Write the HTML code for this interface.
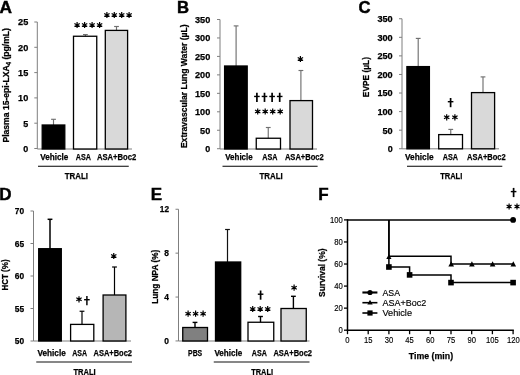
<!DOCTYPE html>
<html><head><meta charset="utf-8"><style>
html,body{margin:0;padding:0;background:#fff;}
svg{display:block;filter:blur(0.35px);}
text{fill:#000;}
</style></head><body>
<svg width="520" height="375" viewBox="0 0 520 375">
<rect width="520" height="375" fill="#fff"/>
<text x="-0.5" y="12.8" font-size="17.3" text-anchor="start" style="font-family:'Liberation Sans',sans-serif;font-weight:bold;stroke:#000;stroke-width:0.45px;" >A</text>
<line x1="37.3" y1="22" x2="37.3" y2="149" stroke="#7f7f7f" stroke-width="1"/>
<line x1="34.3" y1="22.0" x2="37.3" y2="22.0" stroke="#7f7f7f" stroke-width="1"/>
<text x="28.3" y="25.45" font-size="9.6" text-anchor="end" textLength="10.2" lengthAdjust="spacingAndGlyphs" style="font-family:'Liberation Sans',sans-serif;font-weight:bold;stroke:#000;stroke-width:0.25px;" >25</text>
<line x1="34.3" y1="47.3" x2="37.3" y2="47.3" stroke="#7f7f7f" stroke-width="1"/>
<text x="28.3" y="50.75" font-size="9.6" text-anchor="end" textLength="10.2" lengthAdjust="spacingAndGlyphs" style="font-family:'Liberation Sans',sans-serif;font-weight:bold;stroke:#000;stroke-width:0.25px;" >20</text>
<line x1="34.3" y1="72.6" x2="37.3" y2="72.6" stroke="#7f7f7f" stroke-width="1"/>
<text x="28.3" y="76.05" font-size="9.6" text-anchor="end" textLength="10.2" lengthAdjust="spacingAndGlyphs" style="font-family:'Liberation Sans',sans-serif;font-weight:bold;stroke:#000;stroke-width:0.25px;" >15</text>
<line x1="34.3" y1="97.9" x2="37.3" y2="97.9" stroke="#7f7f7f" stroke-width="1"/>
<text x="28.3" y="101.35000000000001" font-size="9.6" text-anchor="end" textLength="10.2" lengthAdjust="spacingAndGlyphs" style="font-family:'Liberation Sans',sans-serif;font-weight:bold;stroke:#000;stroke-width:0.25px;" >10</text>
<line x1="34.3" y1="123.2" x2="37.3" y2="123.2" stroke="#7f7f7f" stroke-width="1"/>
<text x="28.3" y="126.65" font-size="9.6" text-anchor="end" textLength="5.0" lengthAdjust="spacingAndGlyphs" style="font-family:'Liberation Sans',sans-serif;font-weight:bold;stroke:#000;stroke-width:0.25px;" >5</text>
<line x1="34.3" y1="148.5" x2="37.3" y2="148.5" stroke="#7f7f7f" stroke-width="1"/>
<text x="28.3" y="151.95" font-size="9.6" text-anchor="end" textLength="5.0" lengthAdjust="spacingAndGlyphs" style="font-family:'Liberation Sans',sans-serif;font-weight:bold;stroke:#000;stroke-width:0.25px;" >0</text>
<line x1="37.3" y1="149" x2="132" y2="149" stroke="#7f7f7f" stroke-width="1"/>
<line x1="53.5" y1="119.3" x2="53.5" y2="125" stroke="#707070" stroke-width="1.15"/>
<line x1="51.1" y1="119.3" x2="55.9" y2="119.3" stroke="#707070" stroke-width="1.15"/>
<rect x="42.2" y="125" width="22.599999999999994" height="24" fill="#000" stroke="#000" stroke-width="1.3"/>
<line x1="85.4" y1="34.6" x2="85.4" y2="37" stroke="#707070" stroke-width="1.15"/>
<line x1="83.0" y1="34.6" x2="87.80000000000001" y2="34.6" stroke="#707070" stroke-width="1.15"/>
<rect x="73.5" y="36.25" width="23.25" height="112.75" fill="#fff" stroke="#000" stroke-width="1.3"/>
<line x1="116.5" y1="26.5" x2="116.5" y2="31" stroke="#707070" stroke-width="1.15"/>
<line x1="114.1" y1="26.5" x2="118.9" y2="26.5" stroke="#707070" stroke-width="1.15"/>
<rect x="105.3" y="30.4" width="22.299999999999997" height="118.6" fill="#d9d9d9" stroke="#000" stroke-width="1.3"/>
<text x="40.2" y="160" font-size="9.6" text-anchor="start" textLength="28.2" lengthAdjust="spacingAndGlyphs" style="font-family:'Liberation Sans',sans-serif;font-weight:bold;stroke:#000;stroke-width:0.25px;" >Vehicle</text>
<text x="75.8" y="160" font-size="9.6" text-anchor="start" textLength="15.2" lengthAdjust="spacingAndGlyphs" style="font-family:'Liberation Sans',sans-serif;font-weight:bold;stroke:#000;stroke-width:0.25px;" >ASA</text>
<text x="96.9" y="160" font-size="9.6" text-anchor="start" textLength="39.4" lengthAdjust="spacingAndGlyphs" style="font-family:'Liberation Sans',sans-serif;font-weight:bold;stroke:#000;stroke-width:0.25px;" >ASA+Boc2</text>
<line x1="38" y1="166.25" x2="128.75" y2="166.25" stroke="#000" stroke-width="1.1"/>
<text x="64.7" y="179.2" font-size="9.6" text-anchor="start" textLength="23.3" lengthAdjust="spacingAndGlyphs" style="font-family:'Liberation Sans',sans-serif;font-weight:bold;stroke:#000;stroke-width:0.25px;" >TRALI</text>
<path d="M77.10,25.00 L77.10,21.90 M77.10,25.00 L79.78,23.45 M77.10,25.00 L79.78,26.55 M77.10,25.00 L77.10,28.10 M77.10,25.00 L74.42,26.55 M77.10,25.00 L74.42,23.45 " stroke="#000" stroke-width="1.2" fill="none"/>
<circle cx="77.10" cy="25.00" r="1.0" fill="#000"/>
<path d="M84.60,25.00 L84.60,21.90 M84.60,25.00 L87.28,23.45 M84.60,25.00 L87.28,26.55 M84.60,25.00 L84.60,28.10 M84.60,25.00 L81.92,26.55 M84.60,25.00 L81.92,23.45 " stroke="#000" stroke-width="1.2" fill="none"/>
<circle cx="84.60" cy="25.00" r="1.0" fill="#000"/>
<path d="M92.10,25.00 L92.10,21.90 M92.10,25.00 L94.78,23.45 M92.10,25.00 L94.78,26.55 M92.10,25.00 L92.10,28.10 M92.10,25.00 L89.42,26.55 M92.10,25.00 L89.42,23.45 " stroke="#000" stroke-width="1.2" fill="none"/>
<circle cx="92.10" cy="25.00" r="1.0" fill="#000"/>
<path d="M99.60,25.00 L99.60,21.90 M99.60,25.00 L102.28,23.45 M99.60,25.00 L102.28,26.55 M99.60,25.00 L99.60,28.10 M99.60,25.00 L96.92,26.55 M99.60,25.00 L96.92,23.45 " stroke="#000" stroke-width="1.2" fill="none"/>
<circle cx="99.60" cy="25.00" r="1.0" fill="#000"/>
<path d="M106.90,15.00 L106.90,11.90 M106.90,15.00 L109.58,13.45 M106.90,15.00 L109.58,16.55 M106.90,15.00 L106.90,18.10 M106.90,15.00 L104.22,16.55 M106.90,15.00 L104.22,13.45 " stroke="#000" stroke-width="1.2" fill="none"/>
<circle cx="106.90" cy="15.00" r="1.0" fill="#000"/>
<path d="M114.30,15.00 L114.30,11.90 M114.30,15.00 L116.98,13.45 M114.30,15.00 L116.98,16.55 M114.30,15.00 L114.30,18.10 M114.30,15.00 L111.62,16.55 M114.30,15.00 L111.62,13.45 " stroke="#000" stroke-width="1.2" fill="none"/>
<circle cx="114.30" cy="15.00" r="1.0" fill="#000"/>
<path d="M121.70,15.00 L121.70,11.90 M121.70,15.00 L124.38,13.45 M121.70,15.00 L124.38,16.55 M121.70,15.00 L121.70,18.10 M121.70,15.00 L119.02,16.55 M121.70,15.00 L119.02,13.45 " stroke="#000" stroke-width="1.2" fill="none"/>
<circle cx="121.70" cy="15.00" r="1.0" fill="#000"/>
<path d="M129.10,15.00 L129.10,11.90 M129.10,15.00 L131.78,13.45 M129.10,15.00 L131.78,16.55 M129.10,15.00 L129.10,18.10 M129.10,15.00 L126.42,16.55 M129.10,15.00 L126.42,13.45 " stroke="#000" stroke-width="1.2" fill="none"/>
<circle cx="129.10" cy="15.00" r="1.0" fill="#000"/>
<text transform="translate(9.4,85.3) rotate(-90)" font-size="9.6" text-anchor="middle" textLength="114.5" lengthAdjust="spacingAndGlyphs" style="font-family:'Liberation Sans',sans-serif;font-weight:bold;stroke:#000;stroke-width:0.25px;">Plasma 15-epi-LXA<tspan font-size="6.5" dy="1.5">4</tspan><tspan dy="-1.5"> (pg/mL)</tspan></text>
<text x="176.9" y="12.6" font-size="16.7" text-anchor="start" style="font-family:'Liberation Sans',sans-serif;font-weight:bold;stroke:#000;stroke-width:0.45px;" >B</text>
<line x1="220" y1="19.5" x2="220" y2="149" stroke="#7f7f7f" stroke-width="1"/>
<line x1="217" y1="19.5" x2="220" y2="19.5" stroke="#7f7f7f" stroke-width="1"/>
<text x="210.3" y="22.95" font-size="9.6" text-anchor="end" textLength="15.3" lengthAdjust="spacingAndGlyphs" style="font-family:'Liberation Sans',sans-serif;font-weight:bold;stroke:#000;stroke-width:0.25px;" >350</text>
<line x1="217" y1="37.96" x2="220" y2="37.96" stroke="#7f7f7f" stroke-width="1"/>
<text x="210.3" y="41.410000000000004" font-size="9.6" text-anchor="end" textLength="15.3" lengthAdjust="spacingAndGlyphs" style="font-family:'Liberation Sans',sans-serif;font-weight:bold;stroke:#000;stroke-width:0.25px;" >300</text>
<line x1="217" y1="56.42" x2="220" y2="56.42" stroke="#7f7f7f" stroke-width="1"/>
<text x="210.3" y="59.870000000000005" font-size="9.6" text-anchor="end" textLength="15.3" lengthAdjust="spacingAndGlyphs" style="font-family:'Liberation Sans',sans-serif;font-weight:bold;stroke:#000;stroke-width:0.25px;" >250</text>
<line x1="217" y1="74.88" x2="220" y2="74.88" stroke="#7f7f7f" stroke-width="1"/>
<text x="210.3" y="78.33" font-size="9.6" text-anchor="end" textLength="15.3" lengthAdjust="spacingAndGlyphs" style="font-family:'Liberation Sans',sans-serif;font-weight:bold;stroke:#000;stroke-width:0.25px;" >200</text>
<line x1="217" y1="93.34" x2="220" y2="93.34" stroke="#7f7f7f" stroke-width="1"/>
<text x="210.3" y="96.79" font-size="9.6" text-anchor="end" textLength="15.3" lengthAdjust="spacingAndGlyphs" style="font-family:'Liberation Sans',sans-serif;font-weight:bold;stroke:#000;stroke-width:0.25px;" >150</text>
<line x1="217" y1="111.80000000000001" x2="220" y2="111.80000000000001" stroke="#7f7f7f" stroke-width="1"/>
<text x="210.3" y="115.25000000000001" font-size="9.6" text-anchor="end" textLength="15.3" lengthAdjust="spacingAndGlyphs" style="font-family:'Liberation Sans',sans-serif;font-weight:bold;stroke:#000;stroke-width:0.25px;" >100</text>
<line x1="217" y1="130.26" x2="220" y2="130.26" stroke="#7f7f7f" stroke-width="1"/>
<text x="210.3" y="133.70999999999998" font-size="9.6" text-anchor="end" textLength="10.2" lengthAdjust="spacingAndGlyphs" style="font-family:'Liberation Sans',sans-serif;font-weight:bold;stroke:#000;stroke-width:0.25px;" >50</text>
<line x1="217" y1="148.72" x2="220" y2="148.72" stroke="#7f7f7f" stroke-width="1"/>
<text x="210.3" y="152.17" font-size="9.6" text-anchor="end" textLength="5.0" lengthAdjust="spacingAndGlyphs" style="font-family:'Liberation Sans',sans-serif;font-weight:bold;stroke:#000;stroke-width:0.25px;" >0</text>
<line x1="220" y1="149" x2="317" y2="149" stroke="#7f7f7f" stroke-width="1"/>
<line x1="236.1" y1="25.9" x2="236.1" y2="66" stroke="#707070" stroke-width="1.15"/>
<line x1="233.7" y1="25.9" x2="238.5" y2="25.9" stroke="#707070" stroke-width="1.15"/>
<rect x="224.6" y="66" width="22.599999999999994" height="83" fill="#000" stroke="#000" stroke-width="1.3"/>
<line x1="268.25" y1="127.5" x2="268.25" y2="139" stroke="#707070" stroke-width="1.15"/>
<line x1="265.85" y1="127.5" x2="270.65" y2="127.5" stroke="#707070" stroke-width="1.15"/>
<rect x="256.25" y="138.25" width="24.25" height="10.75" fill="#fff" stroke="#000" stroke-width="1.3"/>
<line x1="300.9" y1="70.5" x2="300.9" y2="101" stroke="#707070" stroke-width="1.15"/>
<line x1="298.5" y1="70.5" x2="303.29999999999995" y2="70.5" stroke="#707070" stroke-width="1.15"/>
<rect x="290" y="100.6" width="22.5" height="48.400000000000006" fill="#d9d9d9" stroke="#000" stroke-width="1.3"/>
<text x="225.2" y="160" font-size="9.6" text-anchor="start" textLength="27.5" lengthAdjust="spacingAndGlyphs" style="font-family:'Liberation Sans',sans-serif;font-weight:bold;stroke:#000;stroke-width:0.25px;" >Vehicle</text>
<text x="262.3" y="160" font-size="9.6" text-anchor="start" textLength="15.2" lengthAdjust="spacingAndGlyphs" style="font-family:'Liberation Sans',sans-serif;font-weight:bold;stroke:#000;stroke-width:0.25px;" >ASA</text>
<text x="284.9" y="160" font-size="9.6" text-anchor="start" textLength="38.9" lengthAdjust="spacingAndGlyphs" style="font-family:'Liberation Sans',sans-serif;font-weight:bold;stroke:#000;stroke-width:0.25px;" >ASA+Boc2</text>
<line x1="222.5" y1="166.25" x2="317.6" y2="166.25" stroke="#000" stroke-width="1.1"/>
<text x="259.5" y="179.2" font-size="9.6" text-anchor="start" textLength="23.2" lengthAdjust="spacingAndGlyphs" style="font-family:'Liberation Sans',sans-serif;font-weight:bold;stroke:#000;stroke-width:0.25px;" >TRALI</text>
<line x1="256.9" y1="92.75" x2="256.9" y2="101.95" stroke="#000" stroke-width="1.7"/>
<line x1="254.09999999999997" y1="96.45" x2="259.7" y2="96.45" stroke="#000" stroke-width="1.4"/>
<line x1="264.5" y1="92.75" x2="264.5" y2="101.95" stroke="#000" stroke-width="1.7"/>
<line x1="261.7" y1="96.45" x2="267.3" y2="96.45" stroke="#000" stroke-width="1.4"/>
<line x1="272.09999999999997" y1="92.75" x2="272.09999999999997" y2="101.95" stroke="#000" stroke-width="1.7"/>
<line x1="269.29999999999995" y1="96.45" x2="274.9" y2="96.45" stroke="#000" stroke-width="1.4"/>
<line x1="279.7" y1="92.75" x2="279.7" y2="101.95" stroke="#000" stroke-width="1.7"/>
<line x1="276.9" y1="96.45" x2="282.5" y2="96.45" stroke="#000" stroke-width="1.4"/>
<path d="M257.70,111.50 L257.70,108.40 M257.70,111.50 L260.38,109.95 M257.70,111.50 L260.38,113.05 M257.70,111.50 L257.70,114.60 M257.70,111.50 L255.02,113.05 M257.70,111.50 L255.02,109.95 " stroke="#000" stroke-width="1.2" fill="none"/>
<circle cx="257.70" cy="111.50" r="1.0" fill="#000"/>
<path d="M265.20,111.50 L265.20,108.40 M265.20,111.50 L267.88,109.95 M265.20,111.50 L267.88,113.05 M265.20,111.50 L265.20,114.60 M265.20,111.50 L262.52,113.05 M265.20,111.50 L262.52,109.95 " stroke="#000" stroke-width="1.2" fill="none"/>
<circle cx="265.20" cy="111.50" r="1.0" fill="#000"/>
<path d="M272.70,111.50 L272.70,108.40 M272.70,111.50 L275.38,109.95 M272.70,111.50 L275.38,113.05 M272.70,111.50 L272.70,114.60 M272.70,111.50 L270.02,113.05 M272.70,111.50 L270.02,109.95 " stroke="#000" stroke-width="1.2" fill="none"/>
<circle cx="272.70" cy="111.50" r="1.0" fill="#000"/>
<path d="M280.20,111.50 L280.20,108.40 M280.20,111.50 L282.88,109.95 M280.20,111.50 L282.88,113.05 M280.20,111.50 L280.20,114.60 M280.20,111.50 L277.52,113.05 M280.20,111.50 L277.52,109.95 " stroke="#000" stroke-width="1.2" fill="none"/>
<circle cx="280.20" cy="111.50" r="1.0" fill="#000"/>
<path d="M300.40,59.00 L300.40,55.90 M300.40,59.00 L303.08,57.45 M300.40,59.00 L303.08,60.55 M300.40,59.00 L300.40,62.10 M300.40,59.00 L297.72,60.55 M300.40,59.00 L297.72,57.45 " stroke="#000" stroke-width="1.2" fill="none"/>
<circle cx="300.40" cy="59.00" r="1.0" fill="#000"/>
<text transform="translate(187.4,86.25) rotate(-90)" font-size="9.6" text-anchor="middle" textLength="123.7" lengthAdjust="spacingAndGlyphs" style="font-family:'Liberation Sans',sans-serif;font-weight:bold;stroke:#000;stroke-width:0.25px;">Extravascular Lung Water (µL)</text>
<text x="358.5" y="13.2" font-size="16.7" text-anchor="start" style="font-family:'Liberation Sans',sans-serif;font-weight:bold;stroke:#000;stroke-width:0.45px;" >C</text>
<line x1="402" y1="18.75" x2="402" y2="148.8" stroke="#7f7f7f" stroke-width="1"/>
<line x1="399" y1="18.75" x2="402" y2="18.75" stroke="#7f7f7f" stroke-width="1"/>
<text x="392.7" y="22.2" font-size="9.6" text-anchor="end" textLength="15.3" lengthAdjust="spacingAndGlyphs" style="font-family:'Liberation Sans',sans-serif;font-weight:bold;stroke:#000;stroke-width:0.25px;" >350</text>
<line x1="399" y1="37.32" x2="402" y2="37.32" stroke="#7f7f7f" stroke-width="1"/>
<text x="392.7" y="40.77" font-size="9.6" text-anchor="end" textLength="15.3" lengthAdjust="spacingAndGlyphs" style="font-family:'Liberation Sans',sans-serif;font-weight:bold;stroke:#000;stroke-width:0.25px;" >300</text>
<line x1="399" y1="55.89" x2="402" y2="55.89" stroke="#7f7f7f" stroke-width="1"/>
<text x="392.7" y="59.34" font-size="9.6" text-anchor="end" textLength="15.3" lengthAdjust="spacingAndGlyphs" style="font-family:'Liberation Sans',sans-serif;font-weight:bold;stroke:#000;stroke-width:0.25px;" >250</text>
<line x1="399" y1="74.46000000000001" x2="402" y2="74.46000000000001" stroke="#7f7f7f" stroke-width="1"/>
<text x="392.7" y="77.91000000000001" font-size="9.6" text-anchor="end" textLength="15.3" lengthAdjust="spacingAndGlyphs" style="font-family:'Liberation Sans',sans-serif;font-weight:bold;stroke:#000;stroke-width:0.25px;" >200</text>
<line x1="399" y1="93.03" x2="402" y2="93.03" stroke="#7f7f7f" stroke-width="1"/>
<text x="392.7" y="96.48" font-size="9.6" text-anchor="end" textLength="15.3" lengthAdjust="spacingAndGlyphs" style="font-family:'Liberation Sans',sans-serif;font-weight:bold;stroke:#000;stroke-width:0.25px;" >150</text>
<line x1="399" y1="111.6" x2="402" y2="111.6" stroke="#7f7f7f" stroke-width="1"/>
<text x="392.7" y="115.05" font-size="9.6" text-anchor="end" textLength="15.3" lengthAdjust="spacingAndGlyphs" style="font-family:'Liberation Sans',sans-serif;font-weight:bold;stroke:#000;stroke-width:0.25px;" >100</text>
<line x1="399" y1="130.17000000000002" x2="402" y2="130.17000000000002" stroke="#7f7f7f" stroke-width="1"/>
<text x="392.7" y="133.62" font-size="9.6" text-anchor="end" textLength="10.2" lengthAdjust="spacingAndGlyphs" style="font-family:'Liberation Sans',sans-serif;font-weight:bold;stroke:#000;stroke-width:0.25px;" >50</text>
<line x1="399" y1="148.74" x2="402" y2="148.74" stroke="#7f7f7f" stroke-width="1"/>
<text x="392.7" y="152.19" font-size="9.6" text-anchor="end" textLength="5.0" lengthAdjust="spacingAndGlyphs" style="font-family:'Liberation Sans',sans-serif;font-weight:bold;stroke:#000;stroke-width:0.25px;" >0</text>
<line x1="402" y1="148.8" x2="499" y2="148.8" stroke="#7f7f7f" stroke-width="1"/>
<line x1="418.2" y1="38.4" x2="418.2" y2="67" stroke="#707070" stroke-width="1.15"/>
<line x1="415.8" y1="38.4" x2="420.59999999999997" y2="38.4" stroke="#707070" stroke-width="1.15"/>
<rect x="406.9" y="66.6" width="22.5" height="82.20000000000002" fill="#000" stroke="#000" stroke-width="1.3"/>
<line x1="450.75" y1="129.4" x2="450.75" y2="135" stroke="#707070" stroke-width="1.15"/>
<line x1="448.35" y1="129.4" x2="453.15" y2="129.4" stroke="#707070" stroke-width="1.15"/>
<rect x="438.7" y="134.6" width="23.80000000000001" height="14.200000000000017" fill="#fff" stroke="#000" stroke-width="1.3"/>
<line x1="483" y1="76.9" x2="483" y2="93" stroke="#707070" stroke-width="1.15"/>
<line x1="480.6" y1="76.9" x2="485.4" y2="76.9" stroke="#707070" stroke-width="1.15"/>
<rect x="471.5" y="92.6" width="23.100000000000023" height="56.20000000000002" fill="#d9d9d9" stroke="#000" stroke-width="1.3"/>
<text x="405" y="159.7" font-size="9.6" text-anchor="start" textLength="28.7" lengthAdjust="spacingAndGlyphs" style="font-family:'Liberation Sans',sans-serif;font-weight:bold;stroke:#000;stroke-width:0.25px;" >Vehicle</text>
<text x="442.8" y="159.7" font-size="9.6" text-anchor="start" textLength="15.3" lengthAdjust="spacingAndGlyphs" style="font-family:'Liberation Sans',sans-serif;font-weight:bold;stroke:#000;stroke-width:0.25px;" >ASA</text>
<text x="467" y="159.6" font-size="9.6" text-anchor="start" textLength="38.7" lengthAdjust="spacingAndGlyphs" style="font-family:'Liberation Sans',sans-serif;font-weight:bold;stroke:#000;stroke-width:0.25px;" >ASA+Boc2</text>
<line x1="407" y1="166.25" x2="502.3" y2="166.25" stroke="#000" stroke-width="1.1"/>
<text x="440.2" y="179.3" font-size="9.8" text-anchor="start" textLength="22.1" lengthAdjust="spacingAndGlyphs" style="font-family:'Liberation Sans',sans-serif;font-weight:bold;stroke:#000;stroke-width:0.25px;" >TRALI</text>
<line x1="450.6" y1="98" x2="450.6" y2="107.2" stroke="#000" stroke-width="1.7"/>
<line x1="447.8" y1="101.7" x2="453.40000000000003" y2="101.7" stroke="#000" stroke-width="1.4"/>
<path d="M446.70,117.30 L446.70,114.20 M446.70,117.30 L449.38,115.75 M446.70,117.30 L449.38,118.85 M446.70,117.30 L446.70,120.40 M446.70,117.30 L444.02,118.85 M446.70,117.30 L444.02,115.75 " stroke="#000" stroke-width="1.2" fill="none"/>
<circle cx="446.70" cy="117.30" r="1.0" fill="#000"/>
<path d="M454.90,117.30 L454.90,114.20 M454.90,117.30 L457.58,115.75 M454.90,117.30 L457.58,118.85 M454.90,117.30 L454.90,120.40 M454.90,117.30 L452.22,118.85 M454.90,117.30 L452.22,115.75 " stroke="#000" stroke-width="1.2" fill="none"/>
<circle cx="454.90" cy="117.30" r="1.0" fill="#000"/>
<text transform="translate(368.9,77.1) rotate(-90)" font-size="9.6" text-anchor="middle" textLength="40.2" lengthAdjust="spacingAndGlyphs" style="font-family:'Liberation Sans',sans-serif;font-weight:bold;stroke:#000;stroke-width:0.25px;">EVPE (µL)</text>
<text x="-0.7" y="199.9" font-size="17" text-anchor="start" style="font-family:'Liberation Sans',sans-serif;font-weight:bold;stroke:#000;stroke-width:0.45px;" >D</text>
<line x1="33.5" y1="211" x2="33.5" y2="341" stroke="#7f7f7f" stroke-width="1"/>
<line x1="30.5" y1="211.0" x2="33.5" y2="211.0" stroke="#7f7f7f" stroke-width="1"/>
<text x="24.1" y="214.2" font-size="9" text-anchor="end" textLength="9.3" lengthAdjust="spacingAndGlyphs" style="font-family:'Liberation Sans',sans-serif;font-weight:bold;stroke:#000;stroke-width:0.25px;" >70</text>
<line x1="30.5" y1="243.5" x2="33.5" y2="243.5" stroke="#7f7f7f" stroke-width="1"/>
<text x="24.1" y="246.7" font-size="9" text-anchor="end" textLength="9.3" lengthAdjust="spacingAndGlyphs" style="font-family:'Liberation Sans',sans-serif;font-weight:bold;stroke:#000;stroke-width:0.25px;" >65</text>
<line x1="30.5" y1="276.0" x2="33.5" y2="276.0" stroke="#7f7f7f" stroke-width="1"/>
<text x="24.1" y="279.2" font-size="9" text-anchor="end" textLength="9.3" lengthAdjust="spacingAndGlyphs" style="font-family:'Liberation Sans',sans-serif;font-weight:bold;stroke:#000;stroke-width:0.25px;" >60</text>
<line x1="30.5" y1="308.5" x2="33.5" y2="308.5" stroke="#7f7f7f" stroke-width="1"/>
<text x="24.1" y="311.7" font-size="9" text-anchor="end" textLength="9.3" lengthAdjust="spacingAndGlyphs" style="font-family:'Liberation Sans',sans-serif;font-weight:bold;stroke:#000;stroke-width:0.25px;" >55</text>
<line x1="30.5" y1="341.0" x2="33.5" y2="341.0" stroke="#7f7f7f" stroke-width="1"/>
<text x="24.1" y="344.2" font-size="9" text-anchor="end" textLength="9.3" lengthAdjust="spacingAndGlyphs" style="font-family:'Liberation Sans',sans-serif;font-weight:bold;stroke:#000;stroke-width:0.25px;" >50</text>
<line x1="33.5" y1="341" x2="131" y2="341" stroke="#7f7f7f" stroke-width="1"/>
<line x1="50" y1="219.3" x2="50" y2="249" stroke="#000" stroke-width="1.5"/>
<line x1="47.6" y1="219.3" x2="52.4" y2="219.3" stroke="#000" stroke-width="1.5"/>
<rect x="38.7" y="248.7" width="22.599999999999994" height="92.30000000000001" fill="#000" stroke="#000" stroke-width="1.3"/>
<line x1="82" y1="311.25" x2="82" y2="324" stroke="#000" stroke-width="1.2"/>
<line x1="79.6" y1="311.25" x2="84.4" y2="311.25" stroke="#000" stroke-width="1.2"/>
<rect x="70.6" y="324.4" width="23.200000000000003" height="16.600000000000023" fill="#fff" stroke="#000" stroke-width="1.3"/>
<line x1="114.5" y1="267" x2="114.5" y2="295" stroke="#000" stroke-width="1.2"/>
<line x1="112.1" y1="267" x2="116.9" y2="267" stroke="#000" stroke-width="1.2"/>
<rect x="103.1" y="295" width="22.80000000000001" height="46" fill="#b6b6b6" stroke="#000" stroke-width="1.3"/>
<text x="37.4" y="355.6" font-size="9" text-anchor="start" textLength="28.4" lengthAdjust="spacingAndGlyphs" style="font-family:'Liberation Sans',sans-serif;font-weight:bold;stroke:#000;stroke-width:0.25px;" >Vehicle</text>
<text x="72.2" y="355.6" font-size="9" text-anchor="start" textLength="14.8" lengthAdjust="spacingAndGlyphs" style="font-family:'Liberation Sans',sans-serif;font-weight:bold;stroke:#000;stroke-width:0.25px;" >ASA</text>
<text x="93.5" y="355.6" font-size="9" text-anchor="start" textLength="38.5" lengthAdjust="spacingAndGlyphs" style="font-family:'Liberation Sans',sans-serif;font-weight:bold;stroke:#000;stroke-width:0.25px;" >ASA+Boc2</text>
<line x1="36.25" y1="362" x2="132" y2="362" stroke="#111" stroke-width="1.2"/>
<text x="73.4" y="375" font-size="9" text-anchor="start" textLength="22.3" lengthAdjust="spacingAndGlyphs" style="font-family:'Liberation Sans',sans-serif;font-weight:bold;stroke:#000;stroke-width:0.25px;" >TRALI</text>
<path d="M79.00,299.30 L79.00,296.20 M79.00,299.30 L81.68,297.75 M79.00,299.30 L81.68,300.85 M79.00,299.30 L79.00,302.40 M79.00,299.30 L76.32,300.85 M79.00,299.30 L76.32,297.75 " stroke="#000" stroke-width="1.2" fill="none"/>
<circle cx="79.00" cy="299.30" r="1.0" fill="#000"/>
<line x1="86.9" y1="296" x2="86.9" y2="305.2" stroke="#000" stroke-width="1.45"/>
<line x1="84.10000000000001" y1="299.7" x2="89.7" y2="299.7" stroke="#000" stroke-width="1.4"/>
<path d="M113.75,256.00 L113.75,252.90 M113.75,256.00 L116.43,254.45 M113.75,256.00 L116.43,257.55 M113.75,256.00 L113.75,259.10 M113.75,256.00 L111.07,257.55 M113.75,256.00 L111.07,254.45 " stroke="#000" stroke-width="1.2" fill="none"/>
<circle cx="113.75" cy="256.00" r="1.0" fill="#000"/>
<text transform="translate(8.2,275) rotate(-90)" font-size="9.6" text-anchor="middle" textLength="31.2" lengthAdjust="spacingAndGlyphs" style="font-family:'Liberation Sans',sans-serif;font-weight:bold;stroke:#000;stroke-width:0.25px;">HCT (%)</text>
<text x="150.7" y="199.6" font-size="17" text-anchor="start" style="font-family:'Liberation Sans',sans-serif;font-weight:bold;stroke:#000;stroke-width:0.45px;" >E</text>
<line x1="178.5" y1="209.25" x2="178.5" y2="341" stroke="#7f7f7f" stroke-width="1"/>
<line x1="175.5" y1="209.25" x2="178.5" y2="209.25" stroke="#7f7f7f" stroke-width="1"/>
<text x="169" y="212.45" font-size="9" text-anchor="end" textLength="9.2" lengthAdjust="spacingAndGlyphs" style="font-family:'Liberation Sans',sans-serif;font-weight:bold;stroke:#000;stroke-width:0.25px;" >12</text>
<line x1="175.5" y1="253.15" x2="178.5" y2="253.15" stroke="#7f7f7f" stroke-width="1"/>
<text x="169" y="256.35" font-size="9" text-anchor="end" textLength="4.7" lengthAdjust="spacingAndGlyphs" style="font-family:'Liberation Sans',sans-serif;font-weight:bold;stroke:#000;stroke-width:0.25px;" >8</text>
<line x1="175.5" y1="297.05" x2="178.5" y2="297.05" stroke="#7f7f7f" stroke-width="1"/>
<text x="169" y="300.25" font-size="9" text-anchor="end" textLength="4.7" lengthAdjust="spacingAndGlyphs" style="font-family:'Liberation Sans',sans-serif;font-weight:bold;stroke:#000;stroke-width:0.25px;" >4</text>
<line x1="175.5" y1="340.95" x2="178.5" y2="340.95" stroke="#7f7f7f" stroke-width="1"/>
<text x="169" y="344.15" font-size="9" text-anchor="end" textLength="4.7" lengthAdjust="spacingAndGlyphs" style="font-family:'Liberation Sans',sans-serif;font-weight:bold;stroke:#000;stroke-width:0.25px;" >0</text>
<line x1="178.5" y1="341" x2="309.5" y2="341" stroke="#7f7f7f" stroke-width="1"/>
<line x1="195" y1="322.4" x2="195" y2="328" stroke="#000" stroke-width="1.4"/>
<line x1="192.6" y1="322.4" x2="197.4" y2="322.4" stroke="#000" stroke-width="1.4"/>
<rect x="182.75" y="327.5" width="24.75" height="13.5" fill="#808080" stroke="#000" stroke-width="1.3"/>
<line x1="227.5" y1="229.5" x2="227.5" y2="262" stroke="#111" stroke-width="1.2"/>
<line x1="225.1" y1="229.5" x2="229.9" y2="229.5" stroke="#111" stroke-width="1.2"/>
<rect x="215.5" y="262" width="25.19999999999999" height="79" fill="#000" stroke="#000" stroke-width="1.3"/>
<line x1="260.5" y1="316.5" x2="260.5" y2="323" stroke="#000" stroke-width="1.4"/>
<line x1="258.1" y1="316.5" x2="262.9" y2="316.5" stroke="#000" stroke-width="1.4"/>
<rect x="248" y="322.25" width="25.75" height="18.75" fill="#fff" stroke="#000" stroke-width="1.3"/>
<line x1="293.4" y1="296.3" x2="293.4" y2="309" stroke="#000" stroke-width="1.4"/>
<line x1="291.0" y1="296.3" x2="295.79999999999995" y2="296.3" stroke="#000" stroke-width="1.4"/>
<rect x="281" y="308.5" width="25.25" height="32.5" fill="#d9d9d9" stroke="#000" stroke-width="1.3"/>
<text x="188.1" y="355.7" font-size="9" text-anchor="start" textLength="14.1" lengthAdjust="spacingAndGlyphs" style="font-family:'Liberation Sans',sans-serif;font-weight:bold;stroke:#000;stroke-width:0.25px;" >PBS</text>
<text x="214.4" y="355.7" font-size="9" text-anchor="start" textLength="27.9" lengthAdjust="spacingAndGlyphs" style="font-family:'Liberation Sans',sans-serif;font-weight:bold;stroke:#000;stroke-width:0.25px;" >Vehicle</text>
<text x="251.8" y="355.7" font-size="9" text-anchor="start" textLength="15" lengthAdjust="spacingAndGlyphs" style="font-family:'Liberation Sans',sans-serif;font-weight:bold;stroke:#000;stroke-width:0.25px;" >ASA</text>
<text x="273.4" y="355.7" font-size="9" text-anchor="start" textLength="38.6" lengthAdjust="spacingAndGlyphs" style="font-family:'Liberation Sans',sans-serif;font-weight:bold;stroke:#000;stroke-width:0.25px;" >ASA+Boc2</text>
<line x1="213.75" y1="362" x2="309.5" y2="362" stroke="#111" stroke-width="1.2"/>
<text x="251.2" y="375" font-size="9" text-anchor="start" textLength="21.8" lengthAdjust="spacingAndGlyphs" style="font-family:'Liberation Sans',sans-serif;font-weight:bold;stroke:#000;stroke-width:0.25px;" >TRALI</text>
<path d="M188.10,313.70 L188.10,310.60 M188.10,313.70 L190.78,312.15 M188.10,313.70 L190.78,315.25 M188.10,313.70 L188.10,316.80 M188.10,313.70 L185.42,315.25 M188.10,313.70 L185.42,312.15 " stroke="#000" stroke-width="1.2" fill="none"/>
<circle cx="188.10" cy="313.70" r="1.0" fill="#000"/>
<path d="M195.60,313.70 L195.60,310.60 M195.60,313.70 L198.28,312.15 M195.60,313.70 L198.28,315.25 M195.60,313.70 L195.60,316.80 M195.60,313.70 L192.92,315.25 M195.60,313.70 L192.92,312.15 " stroke="#000" stroke-width="1.2" fill="none"/>
<circle cx="195.60" cy="313.70" r="1.0" fill="#000"/>
<path d="M203.10,313.70 L203.10,310.60 M203.10,313.70 L205.78,312.15 M203.10,313.70 L205.78,315.25 M203.10,313.70 L203.10,316.80 M203.10,313.70 L200.42,315.25 M203.10,313.70 L200.42,312.15 " stroke="#000" stroke-width="1.2" fill="none"/>
<circle cx="203.10" cy="313.70" r="1.0" fill="#000"/>
<path d="M252.70,309.00 L252.70,305.90 M252.70,309.00 L255.38,307.45 M252.70,309.00 L255.38,310.55 M252.70,309.00 L252.70,312.10 M252.70,309.00 L250.02,310.55 M252.70,309.00 L250.02,307.45 " stroke="#000" stroke-width="1.2" fill="none"/>
<circle cx="252.70" cy="309.00" r="1.0" fill="#000"/>
<path d="M260.20,309.00 L260.20,305.90 M260.20,309.00 L262.88,307.45 M260.20,309.00 L262.88,310.55 M260.20,309.00 L260.20,312.10 M260.20,309.00 L257.52,310.55 M260.20,309.00 L257.52,307.45 " stroke="#000" stroke-width="1.2" fill="none"/>
<circle cx="260.20" cy="309.00" r="1.0" fill="#000"/>
<path d="M267.70,309.00 L267.70,305.90 M267.70,309.00 L270.38,307.45 M267.70,309.00 L270.38,310.55 M267.70,309.00 L267.70,312.10 M267.70,309.00 L265.02,310.55 M267.70,309.00 L265.02,307.45 " stroke="#000" stroke-width="1.2" fill="none"/>
<circle cx="267.70" cy="309.00" r="1.0" fill="#000"/>
<line x1="260.6" y1="290.5" x2="260.6" y2="299.7" stroke="#000" stroke-width="1.7"/>
<line x1="257.8" y1="294.2" x2="263.40000000000003" y2="294.2" stroke="#000" stroke-width="1.4"/>
<path d="M294.10,287.70 L294.10,284.60 M294.10,287.70 L296.78,286.15 M294.10,287.70 L296.78,289.25 M294.10,287.70 L294.10,290.80 M294.10,287.70 L291.42,289.25 M294.10,287.70 L291.42,286.15 " stroke="#000" stroke-width="1.2" fill="none"/>
<circle cx="294.10" cy="287.70" r="1.0" fill="#000"/>
<text transform="translate(157.5,276.75) rotate(-90)" font-size="9.6" text-anchor="middle" textLength="54" lengthAdjust="spacingAndGlyphs" style="font-family:'Liberation Sans',sans-serif;font-weight:bold;stroke:#000;stroke-width:0.25px;">Lung NPA (%)</text>
<text x="318.2" y="199.6" font-size="17" text-anchor="start" style="font-family:'Liberation Sans',sans-serif;font-weight:bold;stroke:#000;stroke-width:0.45px;" >F</text>
<line x1="347.5" y1="219.15" x2="347.5" y2="330.95" stroke="#000" stroke-width="1.5"/>
<line x1="346.75" y1="330.2" x2="513.85" y2="330.2" stroke="#000" stroke-width="1.5"/>
<line x1="344.0" y1="219.9" x2="347.5" y2="219.9" stroke="#000" stroke-width="1.3"/>
<text x="342.8" y="223.1" font-size="8.8" text-anchor="end" textLength="12.8" lengthAdjust="spacingAndGlyphs" style="font-family:'Liberation Sans',sans-serif;stroke:#000;stroke-width:0.15px;" >100</text>
<line x1="344.0" y1="241.96" x2="347.5" y2="241.96" stroke="#000" stroke-width="1.3"/>
<text x="342.8" y="245.16" font-size="8.8" text-anchor="end" textLength="8.6" lengthAdjust="spacingAndGlyphs" style="font-family:'Liberation Sans',sans-serif;stroke:#000;stroke-width:0.15px;" >80</text>
<line x1="344.0" y1="264.02" x2="347.5" y2="264.02" stroke="#000" stroke-width="1.3"/>
<text x="342.8" y="267.21999999999997" font-size="8.8" text-anchor="end" textLength="8.6" lengthAdjust="spacingAndGlyphs" style="font-family:'Liberation Sans',sans-serif;stroke:#000;stroke-width:0.15px;" >60</text>
<line x1="344.0" y1="286.08" x2="347.5" y2="286.08" stroke="#000" stroke-width="1.3"/>
<text x="342.8" y="289.28" font-size="8.8" text-anchor="end" textLength="8.6" lengthAdjust="spacingAndGlyphs" style="font-family:'Liberation Sans',sans-serif;stroke:#000;stroke-width:0.15px;" >40</text>
<line x1="344.0" y1="308.14" x2="347.5" y2="308.14" stroke="#000" stroke-width="1.3"/>
<text x="342.8" y="311.34" font-size="8.8" text-anchor="end" textLength="8.6" lengthAdjust="spacingAndGlyphs" style="font-family:'Liberation Sans',sans-serif;stroke:#000;stroke-width:0.15px;" >20</text>
<line x1="344.0" y1="330.2" x2="347.5" y2="330.2" stroke="#000" stroke-width="1.3"/>
<text x="342.8" y="333.4" font-size="8.8" text-anchor="end" textLength="4.3" lengthAdjust="spacingAndGlyphs" style="font-family:'Liberation Sans',sans-serif;stroke:#000;stroke-width:0.15px;" >0</text>
<line x1="347.5" y1="330.2" x2="347.5" y2="334.2" stroke="#000" stroke-width="1.3"/>
<text x="347.5" y="343.1" font-size="8.8" text-anchor="middle" textLength="4.3" lengthAdjust="spacingAndGlyphs" style="font-family:'Liberation Sans',sans-serif;stroke:#000;stroke-width:0.15px;" >0</text>
<line x1="368.2" y1="330.2" x2="368.2" y2="334.2" stroke="#000" stroke-width="1.3"/>
<text x="368.2" y="343.1" font-size="8.8" text-anchor="middle" textLength="8.5" lengthAdjust="spacingAndGlyphs" style="font-family:'Liberation Sans',sans-serif;stroke:#000;stroke-width:0.15px;" >15</text>
<line x1="388.9" y1="330.2" x2="388.9" y2="334.2" stroke="#000" stroke-width="1.3"/>
<text x="388.9" y="343.1" font-size="8.8" text-anchor="middle" textLength="8.5" lengthAdjust="spacingAndGlyphs" style="font-family:'Liberation Sans',sans-serif;stroke:#000;stroke-width:0.15px;" >30</text>
<line x1="409.6" y1="330.2" x2="409.6" y2="334.2" stroke="#000" stroke-width="1.3"/>
<text x="409.6" y="343.1" font-size="8.8" text-anchor="middle" textLength="8.5" lengthAdjust="spacingAndGlyphs" style="font-family:'Liberation Sans',sans-serif;stroke:#000;stroke-width:0.15px;" >45</text>
<line x1="430.3" y1="330.2" x2="430.3" y2="334.2" stroke="#000" stroke-width="1.3"/>
<text x="430.3" y="343.1" font-size="8.8" text-anchor="middle" textLength="8.5" lengthAdjust="spacingAndGlyphs" style="font-family:'Liberation Sans',sans-serif;stroke:#000;stroke-width:0.15px;" >60</text>
<line x1="451.0" y1="330.2" x2="451.0" y2="334.2" stroke="#000" stroke-width="1.3"/>
<text x="451.0" y="343.1" font-size="8.8" text-anchor="middle" textLength="8.5" lengthAdjust="spacingAndGlyphs" style="font-family:'Liberation Sans',sans-serif;stroke:#000;stroke-width:0.15px;" >75</text>
<line x1="471.70000000000005" y1="330.2" x2="471.70000000000005" y2="334.2" stroke="#000" stroke-width="1.3"/>
<text x="471.70000000000005" y="343.1" font-size="8.8" text-anchor="middle" textLength="8.5" lengthAdjust="spacingAndGlyphs" style="font-family:'Liberation Sans',sans-serif;stroke:#000;stroke-width:0.15px;" >90</text>
<line x1="492.40000000000003" y1="330.2" x2="492.40000000000003" y2="334.2" stroke="#000" stroke-width="1.3"/>
<text x="492.40000000000003" y="343.1" font-size="8.8" text-anchor="middle" textLength="12.8" lengthAdjust="spacingAndGlyphs" style="font-family:'Liberation Sans',sans-serif;stroke:#000;stroke-width:0.15px;" >105</text>
<line x1="513.1" y1="330.2" x2="513.1" y2="334.2" stroke="#000" stroke-width="1.3"/>
<text x="513.5" y="343.1" font-size="8.8" text-anchor="middle" textLength="12.8" lengthAdjust="spacingAndGlyphs" style="font-family:'Liberation Sans',sans-serif;stroke:#000;stroke-width:0.15px;" >120</text>
<path d="M347.50,219.90 L513.10,219.90" fill="none" stroke="#000" stroke-width="1.5" stroke-linejoin="miter"/>
<circle cx="513.10" cy="219.90" r="2.9" fill="#000"/>
<path d="M388.90,219.90 L388.90,256.30 L451.00,256.30 L451.00,263.90 L513.10,263.90" fill="none" stroke="#000" stroke-width="1.5" stroke-linejoin="miter"/>
<path d="M386.30,259.02 L391.50,259.02 L388.90,254.22 Z" fill="#000"/>
<path d="M448.40,266.62 L454.00,266.62 L451.20,261.32 Z" fill="#000"/>
<path d="M469.10,266.62 L474.70,266.62 L471.90,261.32 Z" fill="#000"/>
<path d="M489.80,266.62 L495.40,266.62 L492.60,261.32 Z" fill="#000"/>
<path d="M510.50,266.62 L516.10,266.62 L513.30,261.32 Z" fill="#000"/>
<path d="M388.90,219.90 L388.90,267.00 L409.60,267.00 L409.60,274.90 L451.00,274.90 L451.00,282.60 L513.10,282.60" fill="none" stroke="#000" stroke-width="1.5" stroke-linejoin="miter"/>
<rect x="386.10" y="264.20" width="5.6" height="5.6" fill="#000"/>
<rect x="406.80" y="272.10" width="5.6" height="5.6" fill="#000"/>
<rect x="448.20" y="279.80" width="5.6" height="5.6" fill="#000"/>
<rect x="510.30" y="279.80" width="5.6" height="5.6" fill="#000"/>
<line x1="362.4" y1="292.5" x2="377.4" y2="292.5" stroke="#000" stroke-width="2.1"/>
<circle cx="370.00" cy="292.50" r="2.6" fill="#000"/>
<text x="382.5" y="295.7" font-size="9" text-anchor="start" textLength="17.5" lengthAdjust="spacingAndGlyphs" style="font-family:'Liberation Sans',sans-serif;stroke:#000;stroke-width:0.15px;" >ASA</text>
<line x1="362.4" y1="302.7" x2="377.4" y2="302.7" stroke="#000" stroke-width="1.6"/>
<path d="M367.30,304.62 L372.70,304.62 L370.00,299.82 Z" fill="#000"/>
<text x="382.5" y="305.9" font-size="9" text-anchor="start" textLength="43.7" lengthAdjust="spacingAndGlyphs" style="font-family:'Liberation Sans',sans-serif;stroke:#000;stroke-width:0.15px;" >ASA+Boc2</text>
<line x1="362.4" y1="313" x2="377.4" y2="313" stroke="#000" stroke-width="1.6"/>
<rect x="367.40" y="310.40" width="5.2" height="5.2" fill="#000"/>
<text x="382.5" y="316.2" font-size="9" text-anchor="start" textLength="29.5" lengthAdjust="spacingAndGlyphs" style="font-family:'Liberation Sans',sans-serif;stroke:#000;stroke-width:0.15px;" >Vehicle</text>
<text x="408.8" y="359.3" font-size="9.3" text-anchor="start" textLength="44.3" lengthAdjust="spacingAndGlyphs" style="font-family:'Liberation Sans',sans-serif;font-weight:bold;stroke:#000;stroke-width:0.25px;" >Time (min)</text>
<text transform="translate(325.4,272.7) rotate(-90)" font-size="9" text-anchor="middle" textLength="48.4" lengthAdjust="spacingAndGlyphs" style="font-family:'Liberation Sans',sans-serif;font-weight:bold;stroke:#000;stroke-width:0.25px;">Survival (%)</text>
<line x1="513.6" y1="187.9" x2="513.6" y2="197.1" stroke="#000" stroke-width="1.7"/>
<line x1="510.8" y1="191.6" x2="516.4" y2="191.6" stroke="#000" stroke-width="1.4"/>
<path d="M509.10,206.50 L509.10,203.60 M509.10,206.50 L511.61,205.05 M509.10,206.50 L511.61,207.95 M509.10,206.50 L509.10,209.40 M509.10,206.50 L506.59,207.95 M509.10,206.50 L506.59,205.05 " stroke="#000" stroke-width="1.2" fill="none"/>
<circle cx="509.10" cy="206.50" r="1.0" fill="#000"/>
<path d="M517.00,206.50 L517.00,203.60 M517.00,206.50 L519.51,205.05 M517.00,206.50 L519.51,207.95 M517.00,206.50 L517.00,209.40 M517.00,206.50 L514.49,207.95 M517.00,206.50 L514.49,205.05 " stroke="#000" stroke-width="1.2" fill="none"/>
<circle cx="517.00" cy="206.50" r="1.0" fill="#000"/>
</svg></body></html>
